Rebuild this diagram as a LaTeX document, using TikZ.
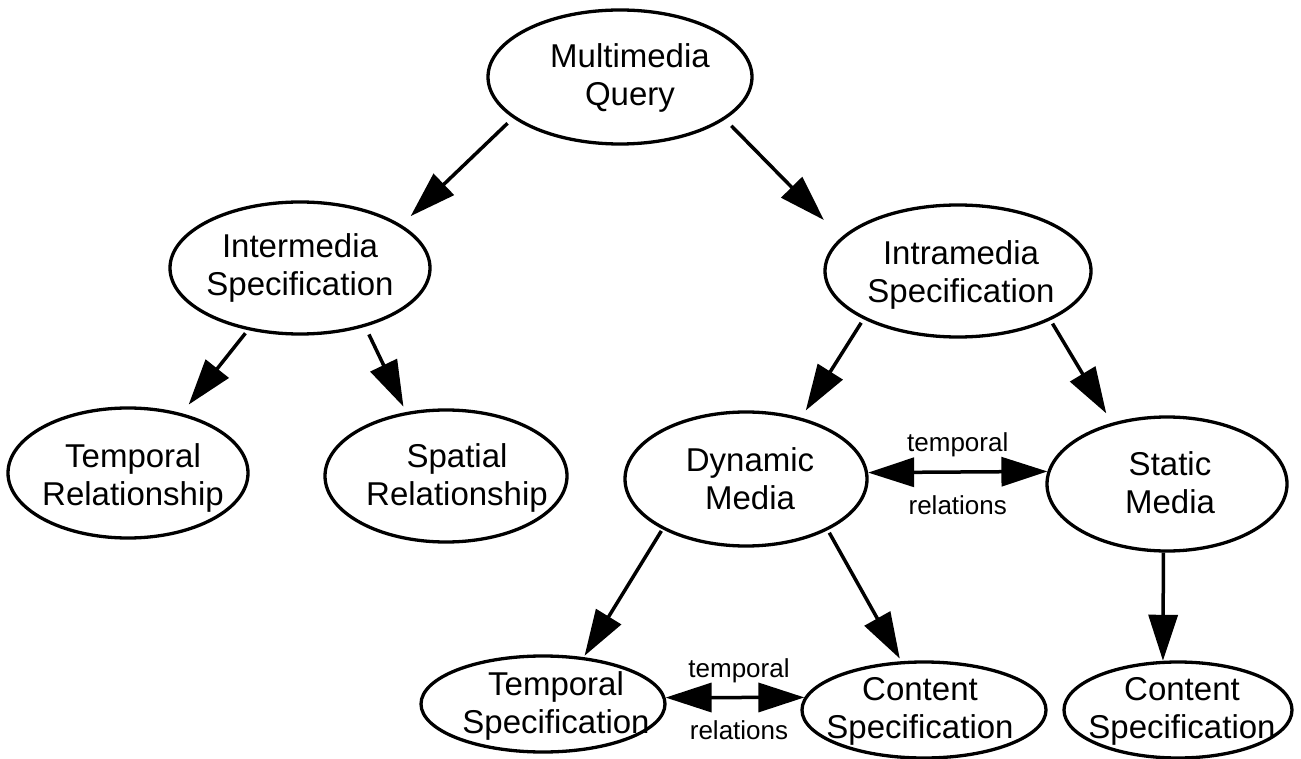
\documentclass[tikz,border=0pt]{standalone}
\usepackage{fontspec}
\setmainfont{Liberation Sans}
\usetikzlibrary{shapes.geometric,arrows.meta}

\tikzset{
  oval/.style={draw, ellipse, line width=3.3pt, inner sep=0pt},
  txt/.style={align=center, inner sep=0pt, font=\fontsize{33}{38}\selectfont},
  lbl/.style={inner sep=0pt, font=\fontsize{26}{30}\selectfont},
  arr/.style={line width=3.5pt, -{Triangle[length=46pt,width=29pt]}},
  dbl/.style={line width=3.5pt, {Triangle[length=46pt,width=29pt]}-{Triangle[length=46pt,width=29pt]}}
}

\begin{document}
\begin{tikzpicture}[x=1pt, y=-1pt]
  \fill[white] (0,0) rectangle (1301,759);
  \useasboundingbox (0,0) rectangle (1301,759);

  % ellipses
  \node[oval, minimum width=264pt, minimum height=134pt] (mq)     at (620,77)  {};
  \node[oval, minimum width=260pt, minimum height=132pt] (inter)  at (300,268) {};
  \node[oval, minimum width=266pt, minimum height=132pt] (intra)  at (958,271) {};
  \node[oval, minimum width=240pt, minimum height=130pt] (trel)   at (128,473) {};
  \node[oval, minimum width=242pt, minimum height=132pt] (srel)   at (446,476) {};
  \node[oval, minimum width=242pt, minimum height=134pt] (dyn)    at (746,479) {};
  \node[oval, minimum width=240pt, minimum height=134pt] (stat)   at (1167,484) {};
  \node[oval, minimum width=244pt, minimum height=96pt]  (tspec)  at (543,704) {};
  \node[oval, minimum width=244pt, minimum height=96pt]  (cspec)  at (924,710) {};
  \node[oval, minimum width=228pt, minimum height=96pt]  (cspecb) at (1178,710) {};

  % texts
  \node[txt] (mq-t)     at (630,78)    {Multimedia\\Query};
  \node[txt] (inter-t)  at (300,267.5) {Intermedia\\Specification};
  \node[txt] (intra-t)  at (961,275)   {Intramedia\\Specification};
  \node[txt] (trel-t)   at (133,477.5) {Temporal\\Relationship};
  \node[txt] (srel-t)   at (457,477.5) {Spatial\\Relationship};
  \node[txt] (dyn-t)    at (750,479)   {Dynamic\\Media};
  \node[txt] (stat-t)   at (1170,482.5){Static\\Media};
  \node[txt] (tspec-t)  at (556,706)   {Temporal\\Specification};
  \node[txt] (cspec-t)  at (920,711)   {Content\\Specification};
  \node[txt] (cspecb-t) at (1182,711.5){Content\\Specification};

  % hierarchy arrows
  \draw[arr, shorten <=7.5pt, shorten >=12.7pt] (mq.201)    -- (inter.23);
  \draw[arr, shorten <=9pt,   shorten >=24.5pt] (mq.338)    -- (intra.164);
  \draw[arr, shorten <=4pt,   shorten >=11pt]   (inter.230) -- (trel.48);
  \draw[arr, shorten <=8.5pt, shorten >=6pt]    (inter.318) -- (srel.122);
  \draw[arr, shorten <=4.3pt, shorten >=8.5pt]  (intra.207) -- (dyn.48);
  \draw[arr, shorten <=4pt,   shorten >=11pt]   (intra.332) -- (stat.132);
  \draw[arr, shorten <=2pt,   shorten >=1.6pt]  (dyn.211)   -- (tspec.49);
  \draw[arr, shorten <=3pt,   shorten >=3pt]    (dyn.328)   -- (cspec.115);
  \draw[arr] (stat.267) -- (cspecb.107);

  % temporal relations
  \draw[dbl] (dyn.3) -- (stat.174)
    node[lbl, midway, yshift=27pt]  (tr1) {temporal}
    node[lbl, midway, yshift=-33pt] (rl1) {relations};
  \draw[dbl] (tspec.3) -- (cspec.174)
    node[lbl, midway, xshift=4pt, yshift=27pt]  (tr2) {temporal}
    node[lbl, midway, xshift=4pt, yshift=-33pt] (rl2) {relations};
\end{tikzpicture}
\end{document}
